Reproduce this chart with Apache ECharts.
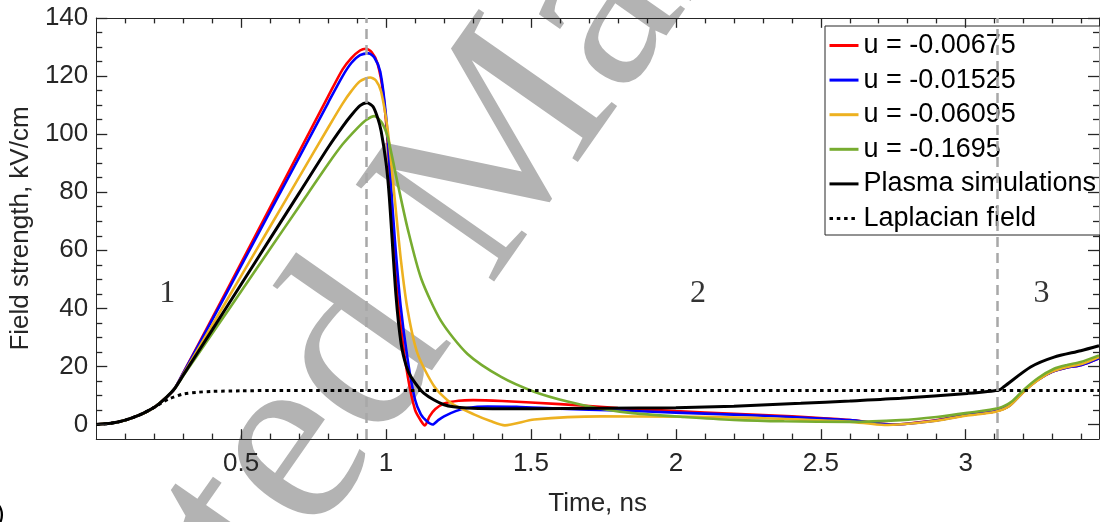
<!DOCTYPE html>
<html>
<head>
<meta charset="utf-8">
<title>Field strength vs time</title>
<script src="https://cdn.jsdelivr.net/npm/echarts@6/dist/echarts.min.js"></script>
<style>
  html, body { margin: 0; padding: 0; background: #fff; }
  #my_chart { width: 1100px; height: 522px; }
</style>
</head>
<body>
<div id="my_chart"></div>
<script>
// values (time in ns, field in kV/cm)
var tRed = [0,0.05,0.1,0.15,0.2,0.24,0.27,0.3,0.4,0.5,0.6,0.7,0.8,0.85,0.88,0.91,0.93,0.95,0.97,0.99,1.01,1.03,1.05,1.075,1.1,1.12,1.134,1.15,1.17,1.2,1.25,1.3,1.4,1.6,1.8,2.0,2.2,2.4,2.6,2.75,2.9,3.0,3.1,3.15,3.2,3.25,3.3,3.35,3.4,3.46];
var eRed = [0,0.4,1.5,3.3,5.9,9.2,12.3,17.8,36.6,55.7,74.8,93.9,113,122.3,126.2,128.8,129.4,128.3,124.5,114,91,55,34.5,16.4,5,1.3,-0.3,2.8,5.3,7.2,8.2,8.4,8.1,7.0,5.7,4.6,3.7,2.8,1.5,0,1.5,3.3,4.5,6.5,11.4,15.4,18.2,19.6,20.5,22.8];

var tBlue = [0,0.05,0.1,0.15,0.2,0.24,0.27,0.3,0.4,0.5,0.6,0.7,0.8,0.85,0.88,0.91,0.94,0.96,0.98,1.0,1.015,1.03,1.05,1.075,1.1,1.12,1.14,1.161,1.18,1.2,1.24,1.28,1.35,1.45,1.6,1.8,2.0,2.2,2.4,2.6,2.75,2.9,3.0,3.1,3.15,3.2,3.25,3.3,3.35,3.4,3.46];
var eBlue = [0,0.4,1.5,3.3,5.9,9.2,12.3,17.7,36,54.7,73.4,92,110.8,120,124.5,127.2,127.8,126.3,121.5,106,85,64,41,22,8.5,3.5,1.2,0,1.5,2.8,4.6,5.7,6.2,6.1,5.4,4.8,4.1,3.4,2.6,1.5,0,1.4,3.2,4.5,6.4,11.3,15.4,18.2,19.6,20.5,22.8];

var tYellow = [0,0.05,0.1,0.15,0.2,0.24,0.27,0.3,0.4,0.5,0.6,0.7,0.8,0.85,0.88,0.91,0.945,0.965,0.983,1.006,1.029,1.052,1.075,1.109,1.167,1.224,1.305,1.36,1.41,1.511,1.741,2.0,2.259,2.45,2.6,2.72,2.9,3.0,3.1,3.15,3.2,3.25,3.3,3.35,3.4,3.46];
var eYellow = [0,0.4,1.5,3.3,5.9,9.2,12.3,17.3,34.2,51.2,68.2,85.2,102.2,110.5,114.8,118.2,119.5,118.5,114.6,101,78.5,55.9,39,24.3,13,7.4,3.4,1.2,-0.3,1.7,2.8,2.7,2.3,1.6,1.0,-0.2,1.3,3.0,4.3,6.3,11.2,15.3,18.3,19.8,20.8,23.2];

var tGreen = [0,0.05,0.1,0.15,0.2,0.24,0.27,0.3,0.4,0.5,0.6,0.7,0.8,0.85,0.9,0.93,0.96,0.985,1.006,1.04,1.075,1.121,1.19,1.281,1.397,1.511,1.626,1.741,1.85,2.029,2.2,2.374,2.6,2.776,2.9,3.006,3.115,3.16,3.2,3.25,3.305,3.35,3.397,3.46];
var eGreen = [0,0.4,1.5,3.3,5.9,9.2,12.3,16.8,31.3,45.9,60.5,75.1,89.7,96.5,102,104.8,106.2,104,98.8,83,67.2,50.3,35.6,24.3,16.4,11.3,7.9,5.4,3.9,2.6,1.6,1.1,0.9,1.5,2.6,4,5.7,8,11.9,16,19.2,20.5,21.5,23.8];

var tPlasma = [0,0.05,0.1,0.15,0.2,0.24,0.27,0.3,0.4,0.5,0.6,0.7,0.8,0.85,0.88,0.91,0.934,0.955,0.971,0.983,1.0,1.011,1.034,1.052,1.07,1.086,1.131,1.2,1.28,1.5,1.741,2.0,2.2,2.431,2.6,2.776,3.006,3.115,3.133,3.224,3.305,3.397,3.46];
var ePlasma = [0,0.4,1.5,3.3,5.9,9.2,12.3,17.0,32.6,48.3,64,79.7,95.4,102.6,106.5,109.8,110.8,109.5,105.6,101,90,78.5,44.6,27.7,20,16.4,10.7,6.8,5.7,5.4,5.6,5.8,6.3,7.3,8.1,9,10.7,11.9,13.1,19.8,23.2,25.4,27.1];

var tLaplace = [0,0.05,0.1,0.15,0.2,0.225,0.25,0.3,0.35,0.4,0.5,0.6,0.8,1.0,3.46];
var eLaplace = [0,0.4,1.5,3.3,5.9,7.4,8.8,10.5,11.1,11.4,11.6,11.7,11.7,11.7,11.7];

var seriesNames = ['u = -0.00675', 'u = -0.01525', 'u = -0.06095', 'u = -0.1695', 'Plasma simulations', 'Laplacian field'];

// stage boundaries (dashed) and stage numbers
var stageBounds = [0.93, 3.11];
var stageNames = ['1', '2', '3'];
var stageX = [0.245, 2.076, 3.262];
var stageY = [45, 45, 45];

// tick labels
var xTicks = [0.5, 1, 1.5, 2, 2.5, 3];
var yTicks = [0, 20, 40, 60, 80, 100, 120, 140];

var xMin = 0, xMax = 3.46, yMin = -5, yMax = 140;

// minor tick positions: every 0.1 ns and every 5 kV/cm
var xMinorTicks = [];
for (var k = 1; k * 0.1 < xMax; k++) {
    if (k % 5 !== 0) xMinorTicks.push(k / 10);
}
var yMinorTicks = [];
for (var m = 5; m < yMax; m += 5) {
    if (m % 20 !== 0) yMinorTicks.push(m);
}

function zip(xs, ys) {
    var out = [];
    for (var i = 0; i < xs.length; i++) {
        out.push([xs[i], ys[i]]);
    }
    return out;
}

var axisColor = '#262626';
var sans = '"Liberation Sans", Arial, sans-serif';

var gridBox = { left: 95, right: 1, top: 18, bottom: 75 };
var plotW = 1100 - gridBox.left - gridBox.right;
var plotH = 522 - gridBox.top - gridBox.bottom;
// tick lengths are given in pixels, turned into axis units
function xLen(px) { return px * (xMax - xMin) / plotW; }
function yLen(px) { return px * (yMax - yMin) / plotH; }

function xAxisOpt(pos, labels) {
    return {
        type: 'value', position: pos, min: xMin, max: xMax, interval: 0.5,
        name: labels ? 'Time, ns' : '', nameLocation: 'middle', nameGap: 52,
        nameTextStyle: { fontFamily: sans, fontSize: 26, color: axisColor },
        axisLine: { show: true, onZero: false, lineStyle: { color: axisColor, width: 1 } },
        axisTick: { show: false },
        axisLabel: {
            show: labels, showMinLabel: false, showMaxLabel: false, margin: 12,
            fontFamily: sans, fontSize: 26, color: axisColor
        },
        splitLine: { show: false }
    };
}
function yAxisOpt(pos, labels) {
    return {
        type: 'value', position: pos, min: yMin, max: yMax,
        name: labels ? 'Field strength, kV/cm' : '', nameLocation: 'middle', nameGap: 55,
        nameTextStyle: { fontFamily: sans, fontSize: 26, color: axisColor },
        axisLine: { show: true, onZero: false, lineStyle: { color: axisColor, width: 1 } },
        axisTick: { show: false },
        axisLabel: { show: labels, customValues: yTicks, margin: 8, fontFamily: sans, fontSize: 26, color: axisColor },
        splitLine: { show: false }
    };
}

function curve(name, xs, ys, color, width, dash) {
    return {
        name: name, type: 'line', xAxisIndex: 0, yAxisIndex: 0,
        data: zip(xs, ys), showSymbol: false, symbol: 'none', smooth: 0.25,
        lineStyle: { color: color, width: width, type: dash || 'solid' },
        itemStyle: { color: color },
        emphasis: { disabled: true }
    };
}

// inward ticks on all four sides, as short mark lines
var tickLines = [];
function addXTick(v, px) {
    tickLines.push([{ coord: [v, yMin] }, { coord: [v, yMin + yLen(px)] }]);
    tickLines.push([{ coord: [v, yMax] }, { coord: [v, yMax - yLen(px)] }]);
}
function addYTick(v, px) {
    tickLines.push([{ coord: [xMin, v] }, { coord: [xMin + xLen(px), v] }]);
    tickLines.push([{ coord: [xMax, v] }, { coord: [xMax - xLen(px), v] }]);
}
xTicks.forEach(function (v) { addXTick(v, 10); });
xMinorTicks.forEach(function (v) { addXTick(v, 5.5); });
yTicks.forEach(function (v) { addYTick(v, 11); });
yMinorTicks.forEach(function (v) { addYTick(v, 6); });

var stageData = [];
for (var i = 0; i < stageNames.length; i++) {
    stageData.push({ value: [stageX[i], stageY[i]], name: stageNames[i] });
}

var myChart = echarts.init(document.getElementById('my_chart'), null, { renderer: 'canvas' });
var option = {
    animation: false,
    backgroundColor: '#fff',
    grid: { left: gridBox.left, right: gridBox.right, top: gridBox.top, bottom: gridBox.bottom, containLabel: false },
    xAxis: [xAxisOpt('bottom', true), xAxisOpt('top', false)],
    yAxis: [yAxisOpt('left', true), yAxisOpt('right', false)],
    legend: {
        orient: 'vertical', left: 825, top: 26,
        data: seriesNames,
        itemWidth: 29, itemHeight: 14, itemGap: 7.6,
        padding: [6, 4, 3, 3],
        backgroundColor: '#fff', borderColor: axisColor, borderWidth: 1, borderRadius: 0,
        itemStyle: { opacity: 0 },
        lineStyle: { width: 3 },
        textStyle: { fontFamily: sans, fontSize: 27, lineHeight: 26, color: '#000' },
        selectedMode: false
    },
    graphic: [
        {
            type: 'group', x: 500, y: 155, rotation: 55 * Math.PI / 180, z: 100, silent: true,
            children: [{
                type: 'text', x: -1153, y: 0,
                style: {
                    text: 'Accepted Manuscript', font: '258px "Liberation Serif", serif',
                    fill: '#b3b3b3', textAlign: 'left', textVerticalAlign: 'middle', blend: 'multiply'
                }
            }]
        },
        {
            type: 'text', left: -4, top: 502, silent: true,
            style: { text: ')', font: '26px "Liberation Sans", Arial, sans-serif', fill: '#000' }
        }
    ],
    series: [
        {
            name: 'stages', type: 'line', data: [], xAxisIndex: 0, yAxisIndex: 0,
            markLine: {
                silent: true, symbol: 'none', label: { show: false },
                lineStyle: { color: '#a8a8a8', width: 2.5, type: [10, 6] },
                data: stageBounds.map(function (v) { return { xAxis: v }; })
            }
        },
        curve(seriesNames[0], tRed, eRed, '#ff0000', 2.6),
        curve(seriesNames[1], tBlue, eBlue, '#0000ff', 2.6),
        curve(seriesNames[2], tYellow, eYellow, '#edb120', 2.6),
        curve(seriesNames[3], tGreen, eGreen, '#77ac30', 2.6),
        curve(seriesNames[4], tPlasma, ePlasma, '#000000', 3),
        curve(seriesNames[5], tLaplace, eLaplace, '#000000', 3, [3.5, 3.8]),
        {
            name: 'stage numbers', type: 'scatter', xAxisIndex: 0, yAxisIndex: 0,
            data: stageData, symbolSize: 1, itemStyle: { color: 'rgba(0,0,0,0)' },
            label: {
                show: true, position: 'inside', formatter: '{b}',
                fontFamily: '"Liberation Serif", "Times New Roman", serif', fontSize: 32, color: '#000'
            },
            silent: true
        },
        {
            name: 'ticks', type: 'line', data: [], xAxisIndex: 0, yAxisIndex: 0,
            markLine: {
                silent: true, symbol: 'none', label: { show: false },
                lineStyle: { color: axisColor, width: 1.3, type: 'solid' },
                emphasis: { disabled: true },
                data: tickLines
            }
        }
    ]
};
myChart.setOption(option);
</script>
</body>
</html>
